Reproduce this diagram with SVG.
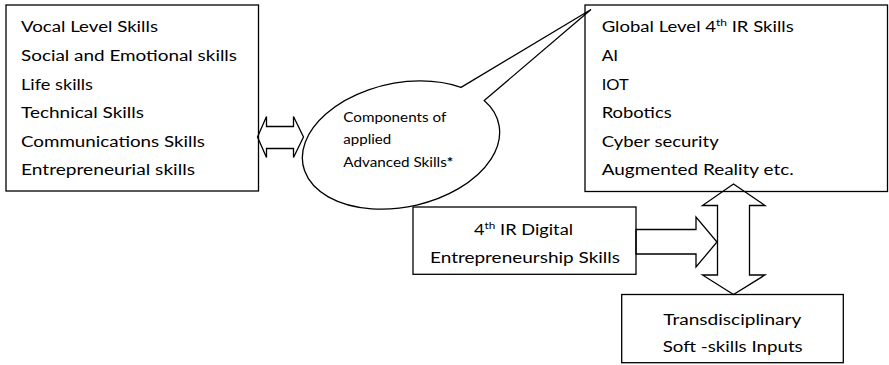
<svg xmlns="http://www.w3.org/2000/svg" width="889" height="365" viewBox="0 0 889 365">
<style>
.box{fill:none;stroke:#000;stroke-width:1.3}
.arr{fill:#fff;stroke:#000;stroke-width:1.3;stroke-linejoin:miter}
.call{fill:#fff;stroke:#000;stroke-width:1.3;stroke-linejoin:miter}
.t{font-family:Lato,"Open Sans","Liberation Sans",sans-serif;font-size:15.5px;fill:#000}
.s{font-family:Lato,"Open Sans","Liberation Sans",sans-serif;font-size:14px;fill:#000}
.sup{font-size:10px}
</style>
<rect width="889" height="365" fill="#fff"/>
<g id="connectors">
  <polygon class="arr" points="257.5,137 266.5,116.5 266.5,126.5 293.5,126.5 293.5,116.5 303.5,137 293.5,157.5 293.5,148.5 266.5,148.5 266.5,157.5"/>
  <polygon class="arr" points="733.5,184 765,205.5 749.5,205.5 749.5,275 765,275 733.5,294.5 702.5,275 717.5,275 717.5,205.5 702.5,205.5"/>
  <polygon class="arr" points="636,229.5 696,229.5 696,217 717,242 696,267 696,254 636,254"/>
</g>
<g id="local-skills">
  <rect class="box" x="6" y="5" width="252.5" height="186"/>
  <text class="t" x="21" y="31.7" textLength="137" lengthAdjust="spacingAndGlyphs">Vocal Level Skills</text>
  <text class="t" x="21" y="61" textLength="216" lengthAdjust="spacingAndGlyphs">Social and Emotional skills</text>
  <text class="t" x="21" y="90" textLength="72" lengthAdjust="spacingAndGlyphs">Life skills</text>
  <text class="t" x="21" y="118.3" textLength="123" lengthAdjust="spacingAndGlyphs">Technical Skills</text>
  <text class="t" x="21" y="146.7" textLength="184" lengthAdjust="spacingAndGlyphs">Communications Skills</text>
  <text class="t" x="21" y="175" textLength="174" lengthAdjust="spacingAndGlyphs">Entrepreneurial skills</text>
</g>
<g id="components-callout">
  <path class="call" d="M461.05,87.42 L591,9.5 L484.2,100.53 A100,62 -12 1 1 461.05,87.42 Z"/>
  <text class="s" x="343.3" y="121.7" textLength="103" lengthAdjust="spacingAndGlyphs">Components of</text>
  <text class="s" x="343.3" y="144" textLength="48" lengthAdjust="spacingAndGlyphs">applied</text>
  <text class="s" x="343.3" y="167.3" textLength="110" lengthAdjust="spacingAndGlyphs">Advanced Skills<tspan font-weight="bold">*</tspan></text>
</g>
<g id="global-skills">
  <rect class="box" x="585" y="5" width="302.5" height="186.5"/>
  <text class="t" x="601.7" y="31.7" textLength="192" lengthAdjust="spacingAndGlyphs">Global Level 4<tspan class="sup" dy="-6">th</tspan><tspan dy="6"> IR Skills</tspan></text>
  <text class="t" x="601.7" y="61" textLength="16.5" lengthAdjust="spacingAndGlyphs">AI</text>
  <text class="t" x="601.7" y="90" textLength="27" lengthAdjust="spacingAndGlyphs">IOT</text>
  <text class="t" x="601.7" y="118.3" textLength="70" lengthAdjust="spacingAndGlyphs">Robotics</text>
  <text class="t" x="601.7" y="146.7" textLength="117" lengthAdjust="spacingAndGlyphs">Cyber security</text>
  <text class="t" x="601.7" y="175" textLength="192" lengthAdjust="spacingAndGlyphs">Augmented Reality etc.</text>
</g>
<g id="digital-skills">
  <rect class="box" x="413" y="207" width="223" height="67.3"/>
  <text class="t" x="474" y="235" textLength="99" lengthAdjust="spacingAndGlyphs">4<tspan class="sup" dy="-6">th</tspan><tspan dy="6"> IR Digital</tspan></text>
  <text class="t" x="430" y="262.7" textLength="190" lengthAdjust="spacingAndGlyphs">Entrepreneurship Skills</text>
</g>
<g id="soft-skills">
  <rect class="box" x="621.7" y="294.5" width="221.6" height="68.2"/>
  <text class="t" x="663.3" y="324.5" textLength="138" lengthAdjust="spacingAndGlyphs">Transdisciplinary</text>
  <text class="t" x="662.7" y="352" textLength="140" lengthAdjust="spacingAndGlyphs">Soft -skills Inputs</text>
</g>
</svg>
